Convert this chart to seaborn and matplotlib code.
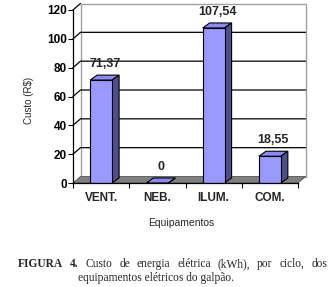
#!/usr/bin/env python3

import matplotlib
matplotlib.use("Agg")
import matplotlib.pyplot as plt
from matplotlib.patches import Polygon
from matplotlib.lines import Line2D
from matplotlib.transforms import IdentityTransform
import seaborn as sns

categories = ["VENT.", "NEB.", "ILUM.", "COM."]
custo = [71.37, 0, 107.54, 18.55]
yticks = [0, 20, 40, 60, 80, 100, 120]

caption1 = ["FIGURA", "4.", "Custo", "de", "energia", "elétrica", "(kWh),", "por", "ciclo,", "dos"]
caption1_bold = 2  # first two words are bold
caption2 = "equipamentos elétricos do galpão."

FRONT = "#9999ff"
TOP = "#8a8af0"
SIDE = "#4e4e8c"
FLOOR = "#808080"
WALL_EDGE = "#a0a0a0"

W, H = 335, 287
DX, DY = 7.5, 6.5   # depth of walls / floor (pixels)
BDX, BDY = 7, 5     # depth of the columns (pixels)

sns.set_style("ticks")
plt.rcParams["font.family"] = ["Liberation Sans", "DejaVu Sans"]

fig = plt.figure(figsize=(W / 100, H / 100), dpi=100)
x0, x1, y0, y1 = 73, 298, 183, 10  # front plane, pixels from top-left
ax = fig.add_axes([x0 / W, 1 - y0 / H, (x1 - x0) / W, (y0 - y1) / H])
ax.patch.set_visible(False)

sns.barplot(x=categories, y=custo, color=FRONT, saturation=1, width=0.39,
            edgecolor="black", linewidth=0.8, ax=ax, zorder=4)
ax.set_xlim(-0.5, 3.5)
ax.set_ylim(0, 120)
ax.autoscale(False)


def to_px(xy, trans):
    return trans.transform(xy)


def face(pts, color, z, ec="none", lw=0.0):
    ax.add_patch(Polygon(pts, closed=True, facecolor=color, edgecolor=ec,
                         linewidth=lw, transform=IdentityTransform(),
                         clip_on=False, zorder=z, joinstyle="miter"))


def line(pts, color, lw, z):
    xs = [p[0] for p in pts]
    ys = [p[1] for p in pts]
    ax.add_line(Line2D(xs, ys, color=color, linewidth=lw,
                       transform=IdentityTransform(), clip_on=False, zorder=z))


def shift(p, dx, dy):
    return (p[0] + dx, p[1] + dy)


# walls and floor
bl = to_px((0, 0), ax.transAxes)
br = to_px((1, 0), ax.transAxes)
tl = to_px((0, 1), ax.transAxes)
tr = to_px((1, 1), ax.transAxes)

face([shift(bl, DX, DY), shift(br, DX, DY), shift(tr, DX, DY), shift(tl, DX, DY)],
     "white", 0, ec=WALL_EDGE, lw=1.0)
face([bl, shift(bl, DX, DY), shift(br, DX, DY), br], FLOOR, 1, ec="#555555", lw=0.6)

# gridlines on the back wall, with their diagonal on the left wall
for v in yticks[1:]:
    front = to_px((-0.5, v), ax.transData)
    back_l = shift(front, DX, DY)
    back_r = shift(to_px((3.5, v), ax.transData), DX, DY)
    if v == yticks[-1]:
        line([front, back_l], "black", 0.9, 1.5)
    else:
        line([front, back_l, back_r], "black", 0.9, 1.5)

# 3d faces of the columns
bars = list(ax.patches)[:len(custo)]
for patch, val in zip(bars, custo):
    bx0 = patch.get_x()
    bx1 = bx0 + patch.get_width()
    h = patch.get_height()
    a = to_px((bx0, h), ax.transData)
    b = to_px((bx1, h), ax.transData)
    c = to_px((bx1, 0), ax.transData)
    face([a, b, shift(b, BDX, BDY), shift(a, BDX, BDY)], TOP, 3.5, ec="black", lw=0.8)
    face([b, c, shift(c, BDX, BDY), shift(b, BDX, BDY)], SIDE, 3.5, ec="black", lw=0.8)
    label = "0" if val == 0 else f"{val:.2f}".replace(".", ",")
    ax.annotate(label, xy=(bx0 + patch.get_width() / 2, h),
                xytext=(BDX / 2 * 0.72, 10 * 0.72), textcoords="offset points",
                ha="center", va="bottom", fontsize=9, fontweight="bold",
                annotation_clip=False)

# axes
sns.despine(ax=ax)
for s in ["left", "bottom"]:
    ax.spines[s].set_color("black")
    ax.spines[s].set_linewidth(0.9)
    ax.spines[s].set_zorder(5)

ax.set_yticks(yticks, labels=[str(t) for t in yticks], fontweight="bold", fontsize=8.5)
ax.tick_params(axis="y", direction="out", length=3.5, width=0.8, pad=1, colors="black")
ax.set_xticks(range(len(categories)), labels=categories, fontweight="bold", fontsize=8.5)
ax.set_xticks([i - 0.5 for i in range(len(categories) + 1)], minor=True)
ax.tick_params(axis="x", which="major", length=0, pad=6.5)
ax.tick_params(axis="x", which="minor", direction="out", length=3.5, width=0.8, color="black")

ax.set_xlabel("Equipamentos", fontsize=7.5)
ax.xaxis.set_label_coords(0.48, -0.205)
ax.set_ylabel("Custo (R$)", fontsize=7)
ax.yaxis.set_label_coords(-0.175, 0.48)

# caption, first line justified
renderer = fig.canvas.get_renderer()
cap_font = ["Liberation Serif", "DejaVu Serif"]
left_px, right_px = 18, 327
base1 = 1 - 267 / H
texts = []
for i, w in enumerate(caption1):
    t = fig.text(0, base1, w, fontsize=8.3, family=cap_font,
                 fontweight="bold" if i < caption1_bold else "normal", va="baseline")
    texts.append(t)
widths = [t.get_window_extent(renderer).width for t in texts]
gap = (right_px - left_px - sum(widths)) / (len(texts) - 1)
xpos = left_px
for t, wd in zip(texts, widths):
    t.set_x(xpos / W)
    xpos += wd + gap

fig.text(78 / W, 1 - 281 / H, caption2, fontsize=8.3, family=cap_font, va="baseline")

fig.savefig("out.png", dpi=100)
